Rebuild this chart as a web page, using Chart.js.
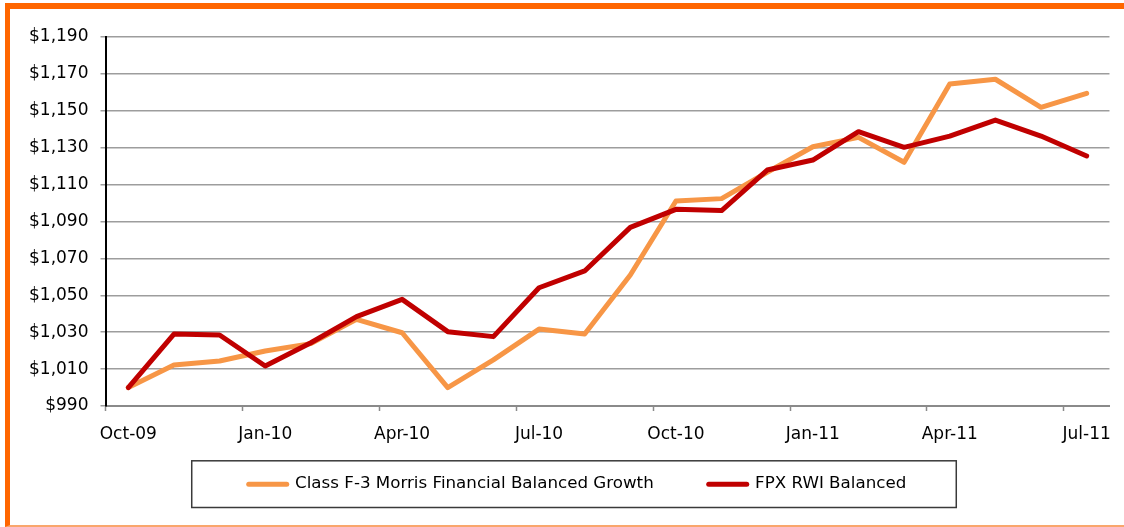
<!DOCTYPE html>
<html>
<head>
<meta charset="utf-8">
<script src="https://cdn.jsdelivr.net/npm/chart.js@4"></script>
<style>
    html, body { margin: 0; padding: 0; background: #fff; }
    #wrap { position: relative; width: 1124px; height: 527px; overflow: hidden; }
    #frame {
        position: absolute; left: 5px; top: 3px; width: 1119px; height: 524px;
        box-sizing: border-box;
        border-top: 6px solid #ff6600;
        border-left: 5px solid #ff6600;
        border-bottom: 2px solid #f9a66c;
    }
    #chart { position: absolute; left: 0; top: 0; }
</style>
</head>
<body>
<div id="wrap">
    <div id="frame"></div>
    <canvas id="chart" width="1124" height="527"></canvas>
</div>
<script>
// Monthly values, Oct-09 .. Jul-11

const MONTHS = [
    'Oct-09', 'Nov-09', 'Dec-09', 'Jan-10', 'Feb-10', 'Mar-10', 'Apr-10', 'May-10',
    'Jun-10', 'Jul-10', 'Aug-10', 'Sep-10', 'Oct-10', 'Nov-10', 'Dec-10', 'Jan-11',
    'Feb-11', 'Mar-11', 'Apr-11', 'May-11', 'Jun-11', 'Jul-11',
];

const MORRIS = [
    1000, 1012.2, 1014.4, 1019.8, 1023.8, 1037, 1029.7, 1000,
    1015, 1031.7, 1029, 1061, 1101.1, 1102.4, 1116.7, 1130.5,
    1135.6, 1122.1, 1164.5, 1167.1, 1151.9, 1159.5,
];

const FPX = [
    1000, 1029, 1028.5, 1011.7, 1024.3, 1038.4, 1047.8, 1030.3,
    1027.6, 1054.1, 1063.2, 1086.8, 1096.6, 1095.9, 1117.9, 1123.3,
    1138.7, 1130.2, 1136.3, 1145, 1136.3, 1125.5,
];

const SERIES_NAMES = ['Class F-3 Morris Financial Balanced Growth', 'FPX RWI Balanced'];

const Y_MIN = 990;
const Y_MAX = 1190;
const Y_STEP = 20;
const X_LABEL_EVERY = 3;   // quarterly labels

const COLORS = {
    orange: '#f79646',
    red: '#c00000',
    grid: '#9d9d9d',
    axis: '#8a8a8a',
    text: '#000000',
    legendBorder: '#3a3a3a',
};

const FONT = 'DejaVu Sans';

// ── Legend placement + Excel style frame round it ─────────────────────

// the legend's wide item gap also pads it vertically, so move it back up
// and a bit to the right once the layout is done
const LEGEND_SHIFT = { x: 20, y: -24.5 };

const legendBoxPlugin = {
    id: 'legendBox',
    afterLayout(chart) {
        const lg = chart.legend;
        if (!lg) return;
        lg.left += LEGEND_SHIFT.x;
        lg.right += LEGEND_SHIFT.x;
        lg.top += LEGEND_SHIFT.y;
        lg.bottom += LEGEND_SHIFT.y;
    },
    afterDraw(chart) {
        const boxes = chart.legend && chart.legend.legendHitBoxes;
        if (!boxes || !boxes.length) return;
        const first = boxes[0];
        const last = boxes[boxes.length - 1];
        const left = first.left - 57;
        const right = last.left + last.width + 50;
        const top = first.top - 15;
        const bottom = first.top + first.height + 15;
        const ctx = chart.ctx;
        ctx.save();
        ctx.strokeStyle = COLORS.legendBorder;
        ctx.lineWidth = 1.5;
        ctx.strokeRect(left, top, right - left, bottom - top);
        ctx.restore();
    }
};

// ── Chart ─────────────────────────────────────────────────────────────

function lineSet(label, data, color, order) {
    return {
        label,
        data,
        borderColor: color,
        backgroundColor: color,
        borderWidth: 5,
        borderJoinStyle: 'round',
        borderCapStyle: 'round',
        pointRadius: 0,
        pointHoverRadius: 0,
        pointBorderWidth: 5,
        pointBorderColor: color,
        pointBackgroundColor: color,
        tension: 0,
        order,
    };
}

function initChart() {
    const ctx = document.getElementById('chart').getContext('2d');
    new Chart(ctx, {
        type: 'line',
        data: {
            labels: MONTHS,
            datasets: [
                lineSet(SERIES_NAMES[0], MORRIS, COLORS.orange, 2),
                lineSet(SERIES_NAMES[1], FPX, COLORS.red, 1),
            ]
        },
        options: {
            responsive: false,
            animation: false,
            devicePixelRatio: 1,
            layout: { padding: { left: 0, right: 9, top: 37, bottom: 0 } },
            plugins: {
                tooltip: { enabled: false },
                legend: {
                    position: 'bottom',
                    labels: {
                        usePointStyle: true,
                        pointStyle: 'line',
                        pointStyleWidth: 38,
                        padding: 55,
                        color: COLORS.text,
                        font: { family: FONT, size: 16.7 },
                        sort: (a, b) => a.datasetIndex - b.datasetIndex,
                        generateLabels: (chart) =>
                            Chart.defaults.plugins.legend.labels.generateLabels(chart)
                                .map(item => Object.assign(item, { lineCap: 'round' })),
                    }
                }
            },
            scales: {
                x: {
                    offset: true,
                    afterFit: (scale) => { scale.height = 39.3; },
                    border: { color: COLORS.axis, width: 2 },
                    grid: {
                        offset: true,
                        drawOnChartArea: false,
                        tickLength: 5,
                        tickWidth: 1.5,
                        tickColor: (c) => (c.index % X_LABEL_EVERY === 0 ? COLORS.axis : 'transparent'),
                    },
                    ticks: {
                        autoSkip: false,
                        maxRotation: 0,
                        minRotation: 0,
                        padding: 13,
                        color: COLORS.text,
                        font: { family: FONT, size: 17 },
                        callback: (val, i) => (i % X_LABEL_EVERY === 0 ? MONTHS[i] : ''),
                    },
                },
                y: {
                    min: Y_MIN,
                    max: Y_MAX,
                    afterFit: (scale) => { scale.width = 105.5; },
                    border: { color: '#000000', width: 2 },
                    grid: {
                        color: COLORS.grid,
                        lineWidth: 1.5,
                        tickLength: 5,
                    },
                    ticks: {
                        stepSize: Y_STEP,
                        padding: 12,
                        color: COLORS.text,
                        font: { family: FONT, size: 17 },
                        callback: (v) => '$' + v.toLocaleString('en-US'),
                    },
                },
            },
        },
        plugins: [legendBoxPlugin],
    });
}

initChart();
</script>
</body>
</html>
